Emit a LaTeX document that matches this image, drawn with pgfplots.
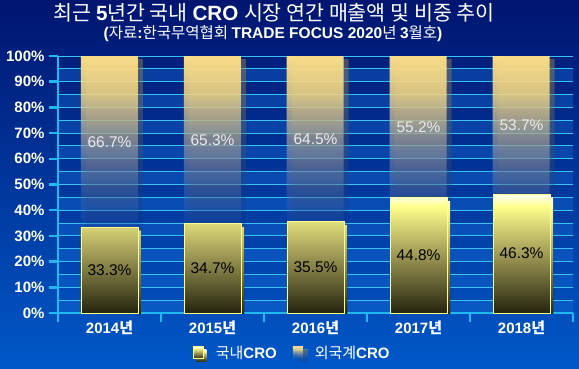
\documentclass[border=0pt]{standalone}
\usepackage{fontspec}
\setmainfont{Liberation Sans}
\newfontfamily\kr{Noto Sans CJK KR}
\usepackage{pgfplots}
\pgfplotsset{compat=1.18}
\usetikzlibrary{fadings}
\definecolor{bgtop}{HTML}{001570}
\definecolor{bgbot}{HTML}{0058C8}
\definecolor{bandc}{HTML}{1A70D8}
\definecolor{cyanax}{HTML}{20B8F0}
\definecolor{gridc}{HTML}{38C4F0}
\definecolor{domdark}{HTML}{24240F}
\definecolor{dommid}{HTML}{B4AE62}
\definecolor{domyel}{HTML}{FFFF8C}
\definecolor{domwhite}{HTML}{FFFFE8}
\definecolor{fortop}{HTML}{F8DC88}
\definecolor{formid}{HTML}{A0A0A4}
\definecolor{forbot}{HTML}{2C50A8}
\pgfdeclareverticalshading{dombar}{100bp}{color(0bp)=(domdark); color(25bp)=(domdark); color(54bp)=(dommid); color(70bp)=(domyel); color(74bp)=(domwhite); color(100bp)=(domwhite)}
\pgfdeclareverticalshading{forbar}{100bp}{color(0bp)=(forbot); color(25bp)=(forbot); color(47bp)=(formid); color(64bp)=(fortop); color(100bp)=(fortop)}
\tikzfading[name=forfade, top color=transparent!0, bottom color=transparent!80]
\begin{document}
\begin{tikzpicture}[x=1pt,y=1pt]
\useasboundingbox (0,0) rectangle (579,368);
\shade[top color=bgtop, bottom color=bgbot] (0,0) rectangle (579,368);
% decorative alternating bands of the plot area
\foreach \k in {0,2,...,18}{
  \fill[bandc, opacity=0.35] (58,{55+\k*12.85}) rectangle (573,{55+(\k+1)*12.85});
}
\node[text=white, inner sep=0pt, font=\fontsize{20.6}{20.6}\selectfont] at (274,355) {{\kr 최근 }\textbf{5}{\kr 년간 국내 }\textbf{CRO} {\kr 시장 연간 매출액 및 비중 추이}};
\node[text=white, inner sep=0pt, font=\fontsize{15.5}{15.5}\selectfont] at (273,334) {\textbf{(}{\kr 자료}\textbf{:}{\kr 한국무역협회 }\textbf{TRADE FOCUS 2020}{\kr 년 }\textbf{3}{\kr 월호}\textbf{)}};
\begin{axis}[
  at={(58pt,55pt)}, anchor=south west,
  scale only axis, width=515pt, height=257pt,
  xmin=-0.5, xmax=4.5, ymin=0, ymax=100,
  ybar stacked, bar width=57pt,
  axis lines*=left,
  axis line style={cyanax, line width=2.5pt},
  tick align=outside,
  major tick length=9pt, minor tick length=0pt,
  tick style={cyanax, line width=2.5pt},
  xtick={-0.5,0.5,...,4.5}, xticklabels={},
  extra x ticks={0,1,2,3,4},
  extra x tick labels={\textbf{2014}{\kr\bfseries 년},\textbf{2015}{\kr\bfseries 년},\textbf{2016}{\kr\bfseries 년},\textbf{2017}{\kr\bfseries 년},\textbf{2018}{\kr\bfseries 년}},
  extra x tick style={major tick length=0pt, xticklabel style={text=white, font=\fontsize{15}{15}\selectfont, yshift=-4pt}},
  ytick={0,10,...,100},
  yticklabel={\textbf{\pgfmathprintnumber{\tick}\%}},
  /pgf/number format/assume math mode=true,
  yticklabel style={text=white, font=\bfseries\fontsize{15}{15}\selectfont, xshift=-1pt},
  minor ytick={5,15,...,95},
  ymajorgrids, yminorgrids,
  major grid style={gridc, line width=1pt},
  minor grid style={gridc, line width=1pt},
  legend style={at={(0.455,-0.155)}, anchor=center, draw=none, fill=none, text=white,
    font=\fontsize{15}{15}\selectfont, legend columns=2,
    /tikz/every odd column/.append style={column sep=10pt},
    /tikz/every even column/.append style={column sep=14pt}},
  legend image code/.code={\path[#1] (0pt,-6pt) rectangle (10pt,6pt);},
]
\addplot[draw={rgb,255:red,255;green,255;blue,140}, line width=0.8pt, shade, shading=dombar,
  preaction={fill=black, fill opacity=1, draw=none, transform canvas={xshift=3pt,yshift=-3pt}}]
  coordinates {(0,33.3) (1,34.7) (2,35.5) (3,44.8) (4,46.3)};
\addlegendentry{{\kr 국내}\textbf{CRO}}
\addplot[draw=none, shade, shading=forbar, path fading=forfade,
  preaction={fill=black, fill opacity=0.3, draw=none, transform canvas={xshift=5pt,yshift=-3pt}}]
  coordinates {(0,66.7) (1,65.3) (2,64.5) (3,55.2) (4,53.7)};
\addlegendentry{{\kr 외국계}\textbf{CRO}}
\end{axis}
\begin{axis}[
  at={(58pt,55pt)}, anchor=south west,
  scale only axis, width=515pt, height=257pt,
  xmin=-0.5, xmax=4.5, ymin=0, ymax=100,
  hide axis,
]
\addplot[draw=none, mark=none, nodes near coords, point meta=explicit symbolic,
  nodes near coords align={center},
  every node near coord/.append style={text=black, font=\fontsize{15.5}{15.5}\selectfont}]
  coordinates {(0,16.65)[33.3\%] (1,17.35)[34.7\%] (2,17.75)[35.5\%] (3,22.4)[44.8\%] (4,23.15)[46.3\%]};
\addplot[draw=none, mark=none, nodes near coords, point meta=explicit symbolic,
  nodes near coords align={center},
  every node near coord/.append style={text={rgb,255:red,235;green,235;blue,235}, font=\fontsize{15.5}{15.5}\selectfont}]
  coordinates {(0,66.65)[66.7\%] (1,67.35)[65.3\%] (2,67.75)[64.5\%] (3,72.4)[55.2\%] (4,73.15)[53.7\%]};
\end{axis}
\end{tikzpicture}
\end{document}
